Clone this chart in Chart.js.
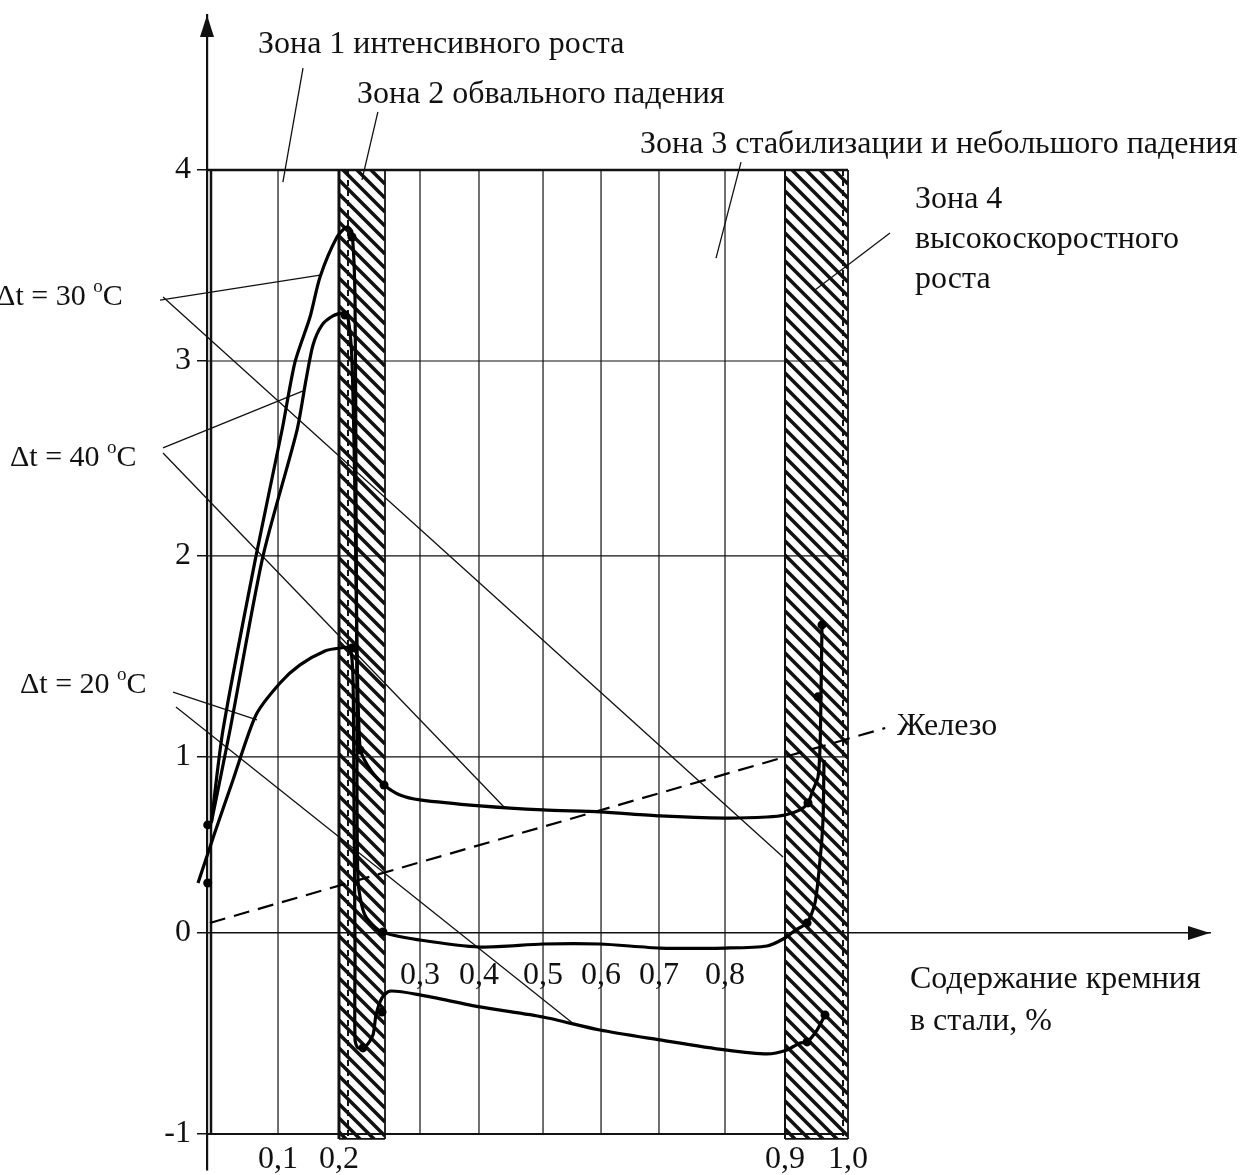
<!DOCTYPE html>
<html lang="ru">
<head>
<meta charset="UTF-8">
<script src="https://cdn.jsdelivr.net/npm/chart.js"></script>
<title>Зоны роста по содержанию кремния</title>
<style>body { margin: 0; background: #fff; }</style>
</head>
<body>
<canvas id="chart" width="1252" height="1175"></canvas>
<script>
// x = содержание кремния, %; y = величина на оси ординат
const dt30 = [[0.006,0.625],[0.0225,1.134],[0.069,2.0],[0.1066,2.646],[0.1279,2.995],[0.1525,3.23],[0.1689,3.44],[0.1967,3.649],[0.2099,3.702],[0.216,3.675],[0.2198,3.319],[0.221,2.287],[0.2222,1.284],[0.2235,0.301],[0.232,0.102],[0.2531,0.006],[0.3,-0.035],[0.4016,-0.07],[0.5,-0.055],[0.598,-0.055],[0.7015,-0.075],[0.8,-0.075],[0.87,-0.065],[0.9,-0.025],[0.9167,0.017],[0.935,0.057],[0.9476,0.17],[0.9556,0.415],[0.9603,0.642],[0.9619,0.983]];
const dt40 = [[0.006,0.625],[0.0324,1.134],[0.0789,2.0],[0.1312,2.646],[0.1459,2.903],[0.1574,3.084],[0.1721,3.188],[0.1902,3.236],[0.2049,3.251],[0.2111,3.225],[0.216,3.005],[0.2198,2.287],[0.2222,1.532],[0.2247,1.134],[0.2272,1.025],[0.2407,0.915],[0.2556,0.841],[0.2753,0.784],[0.3,0.756],[0.4016,0.722],[0.5,0.699],[0.598,0.688],[0.7015,0.665],[0.8,0.653],[0.87,0.659],[0.9,0.67],[0.9238,0.699],[0.9365,0.739],[0.9444,0.8125],[0.9524,0.886],[0.9556,1.05],[0.9571,1.299],[0.9587,1.657]];
const dt20 = [[-0.014,0.284],[0.0113,0.574],[0.0366,0.869],[0.069,1.209],[0.1033,1.368],[0.1361,1.458],[0.177,1.527],[0.2012,1.542],[0.2136,1.542],[0.2173,1.383],[0.2185,0.756],[0.2198,-0.085],[0.2198,-0.532],[0.2235,-0.572],[0.2333,-0.562],[0.242,-0.507],[0.2457,-0.408],[0.2531,-0.323],[0.263,-0.289],[0.3,-0.308],[0.4016,-0.368],[0.5,-0.418],[0.598,-0.483],[0.7015,-0.532],[0.8,-0.582],[0.87,-0.602],[0.9032,-0.582],[0.9238,-0.547],[0.935,-0.542],[0.9508,-0.483],[0.9635,-0.408]];
const markers = [[0.001,0.614],[0.001,0.284],[0.216,3.649],[0.2074,3.241],[0.216,1.542],[0.2259,1.035],[0.2556,0.841],[0.2543,0.006],[0.2296,-0.572],[0.2531,-0.393],[0.9365,0.739],[0.9524,1.299],[0.9587,1.657],[0.935,0.057],[0.935,-0.542],[0.9635,-0.408]];
const iron = [[0.004,0.057],[1.058,1.144]];

// leader lines from the notes to the curves / zones
const leaders = [
  [[0.141,4.529],[0.108,3.937]],
  [[0.248,4.301],[0.2284,3.948]],
  [[0.8267,4.041],[0.7864,3.539]],
  [[1.0655,3.67],[0.9476,3.372]],
  [[-0.0733,3.319],[0.1689,3.45]],
  [[-0.0686,3.335],[0.8967,0.432]],
  [[-0.0686,2.554],[0.1443,2.851]],
  [[-0.0686,2.528],[0.4406,0.71]],
  [[-0.053,1.323],[0.0704,1.184]],
  [[-0.0484,1.249],[0.5552,-0.458]]
];

const xTicksBottom = [0.1, 0.2, 0.9, 1.0];
const xTicksMiddle = [0.3, 0.4, 0.5, 0.6, 0.7, 0.8];
const yTicks = [-1, 0, 1, 2, 3, 4];
const xGrid = [0.1, 0.3, 0.4, 0.5, 0.6, 0.7, 0.8];
const yGrid = [1, 2, 3];
const zoneFrom = [0.2, 0.9];
const zoneTo = [0.2568, 1.0];

const noteText = ['Зона 1 интенсивного роста', 'Зона 2 обвального падения', 'Зона 3 стабилизации и небольшого падения',
  'Зона 4', 'высокоскоростного', 'роста', 'Железо', 'Содержание кремния', 'в стали, %'];
const noteAt = [[0.0718,4.648],[0.2222,4.389],[0.6672,4.13],[1.1045,3.843],[1.1045,3.634],[1.1045,3.424],[1.0764,1.149],[1.0967,-0.234],[1.0967,-0.443]];
const dtText = ['30', '40', '20'];
const dtAt = [[-0.329,3.335],[-0.3073,2.503],[-0.2917,1.358]];

// the hand-drawn axes are not evenly spaced: value -> place on a plain linear axis
const axisBreaks = {
  x: [[0,0],[0.1,0.1108],[0.2,0.2059],[0.3,0.3323],[0.4,0.4243],[0.5,0.5242],[0.6,0.6147],[0.7,0.7051],[0.8,0.8081],[0.9,0.9017],[1,1]],
  y: [[-1,-1],[0,0.0425],[1,0.9554],[2,1.998],[3,3.0093],[4,4]]
};
axisBreaks.x2 = axisBreaks.x;

class BrokenScale extends Chart.LinearScale {
  static id = 'broken';
  getPixelForValue(value) {
    const b = axisBreaks[this.id];
    const last = b[b.length - 1];
    let v = value;
    if (value <= b[0][0]) v = b[0][1] + value - b[0][0];
    else if (value >= last[0]) v = last[1] + value - last[0];
    else {
      for (let i = 1; i < b.length; i++) {
        if (value <= b[i][0]) {
          v = b[i-1][1] + (value - b[i-1][0]) / (b[i][0] - b[i-1][0]) * (b[i][1] - b[i-1][1]);
          break;
        }
      }
    }
    return super.getPixelForValue(v);
  }
}
Chart.register(BrokenScale);

const serif = '"Liberation Serif", "Times New Roman", serif';
const pts = arr => arr.map(([x, y]) => ({x, y}));
const comma = v => v.toFixed(1).replace('.', ',');
// tick labels must not push the plot area around
const noPad = s => { s.paddingTop = 0; s.paddingBottom = 0; s.paddingLeft = 0; s.paddingRight = 0; };

function line(ctx, x1, y1, x2, y2) {
  ctx.beginPath();
  ctx.moveTo(x1, y1);
  ctx.lineTo(x2, y2);
  ctx.stroke();
}

const diagram = {
  id: 'diagram',
  beforeDatasetsDraw(chart) {
    const {ctx, scales: {x, y}} = chart;
    const X = v => x.getPixelForValue(v), Y = v => y.getPixelForValue(v);
    ctx.save();
    ctx.strokeStyle = '#111';
    ctx.lineWidth = 1.2;
    xGrid.forEach(v => line(ctx, X(v), Y(-1), X(v), Y(4)));
    yGrid.forEach(v => line(ctx, X(0), Y(v), X(1), Y(v)));
    ctx.lineWidth = 2.5;
    line(ctx, X(0), Y(4), X(1), Y(4));
    line(ctx, X(0) + 4, Y(4), X(0) + 4, Y(-1));
    ctx.lineWidth = 2;
    line(ctx, X(0), Y(-1), X(1), Y(-1));

    // hatched zones 2 and 4
    zoneFrom.forEach((a, i) => {
      const l = X(a), r = X(zoneTo[i]), t = Y(4), b = Y(-1) + 5, w = r - l;
      ctx.save();
      ctx.beginPath();
      ctx.rect(l, t, w, b - t);
      ctx.clip();
      ctx.lineWidth = 3.5;
      for (let k = t - w; k < b; k += 14) line(ctx, l, k, r, k + w);
      ctx.restore();
      ctx.lineWidth = i === 0 ? 3 : 2;
      line(ctx, l, t, l, b);
      ctx.lineWidth = 1.8;
      line(ctx, r, t, r, b);
      line(ctx, l, b, r, b);
      ctx.setLineDash([6, 4]);
      ctx.lineWidth = 2;
      const inner = i === 0 ? l + 9 : r - 5;
      line(ctx, inner, t, inner, b);
      ctx.setLineDash([]);
    });
    ctx.restore();
  },
  afterDraw(chart) {
    const {ctx, chartArea, scales: {x, y}} = chart;
    const X = v => x.getPixelForValue(v), Y = v => y.getPixelForValue(v);
    ctx.save();
    ctx.fillStyle = '#111';
    // arrow heads
    const ax = chartArea.left, ay = Y(0);
    ctx.beginPath();
    ctx.moveTo(ax, chartArea.top);
    ctx.lineTo(ax - 7, chartArea.top + 22);
    ctx.lineTo(ax + 7, chartArea.top + 22);
    ctx.fill();
    ctx.beginPath();
    ctx.moveTo(chartArea.right, ay);
    ctx.lineTo(chartArea.right - 22, ay - 7);
    ctx.lineTo(chartArea.right - 22, ay + 7);
    ctx.fill();

    ctx.textBaseline = 'middle';
    ctx.font = '32px ' + serif;
    noteText.forEach((t, i) => ctx.fillText(t, X(noteAt[i][0]), Y(noteAt[i][1])));
    const big = '30px ' + serif, small = '19px ' + serif;
    dtText.forEach((t, i) => {
      let px = X(dtAt[i][0]);
      const py = Y(dtAt[i][1]);
      const s = 'Δt = ' + t + ' ';
      ctx.font = big;
      ctx.fillText(s, px, py);
      px += ctx.measureText(s).width;
      ctx.font = small;
      ctx.fillText('o', px, py - 10);
      px += ctx.measureText('o').width;
      ctx.font = big;
      ctx.fillText('C', px, py);
    });
    ctx.restore();
  }
};

const curveStyle = {borderColor: '#000', borderWidth: 3.2, pointRadius: 0, tension: 0.25, fill: false, clip: false};
const datasets = [
  {label: 'Δt = 30 °C', data: pts(dt30), ...curveStyle},
  {label: 'Δt = 40 °C', data: pts(dt40), ...curveStyle},
  {label: 'Δt = 20 °C', data: pts(dt20), ...curveStyle},
  {label: 'Железо', data: pts(iron), borderColor: '#000', borderWidth: 2.2, borderDash: [16, 9], pointRadius: 0, clip: false},
  {label: 'точки', data: pts(markers), showLine: false, pointRadius: 4.5, pointBackgroundColor: '#000', pointBorderWidth: 0, clip: false}
];
leaders.forEach(seg => datasets.push({label: '', data: pts(seg), borderColor: '#111', borderWidth: 1.3, pointRadius: 0, tension: 0, clip: false}));

const tickFont = {family: serif, size: 32};

new Chart(document.getElementById('chart'), {
  type: 'line',
  data: {datasets},
  options: {
    responsive: false,
    animation: false,
    devicePixelRatio: 1,
    events: [],
    layout: {padding: {top: 15, right: 42, bottom: 5, left: 0}},
    plugins: {legend: {display: false}, tooltip: {enabled: false}},
    scales: {
      x: {
        type: 'broken', position: {y: -1}, min: 0, max: 1.5647,
        afterBuildTicks: s => { s.ticks = xTicksBottom.map(value => ({value})); },
        afterFit: noPad,
        ticks: {callback: comma, font: tickFont, color: '#111', padding: 6, maxRotation: 0, autoSkip: false},
        grid: {display: false, drawTicks: false},
        border: {display: false}
      },
      x2: {
        type: 'broken', position: {y: 0}, min: 0, max: 1.5647,
        afterBuildTicks: s => { s.ticks = xTicksMiddle.map(value => ({value})); },
        afterFit: noPad,
        ticks: {callback: comma, font: tickFont, color: '#111', padding: 23, maxRotation: 0, autoSkip: false},
        grid: {display: false, drawTicks: false},
        border: {display: true, color: '#111', width: 1.6}
      },
      y: {
        type: 'broken', position: 'left', min: -1.187, max: 4.804,
        afterBuildTicks: s => { s.ticks = yTicks.map(value => ({value})); },
        afterFit: s => { noPad(s); s.width = 207; },
        ticks: {callback: v => String(v), font: tickFont, color: '#111', padding: 6},
        grid: {drawOnChartArea: false, drawTicks: true, tickLength: 10, color: '#111', lineWidth: 1.5},
        border: {display: true, color: '#111', width: 2.2}
      }
    }
  },
  plugins: [diagram]
});
</script>
</body>
</html>
